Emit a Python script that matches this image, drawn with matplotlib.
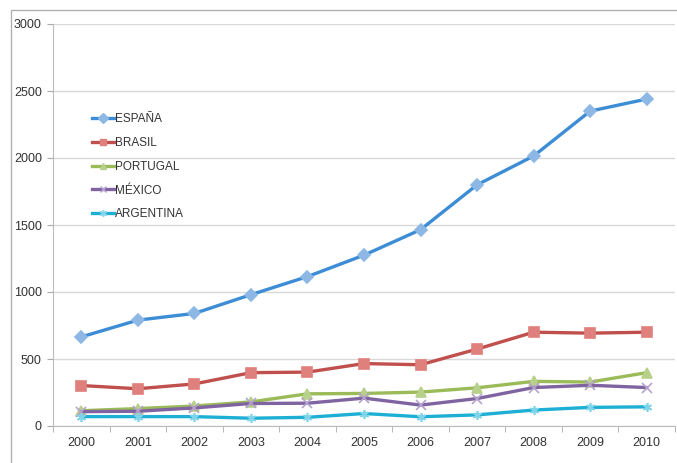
import matplotlib
matplotlib.use("Agg")
import matplotlib.pyplot as plt
from matplotlib.lines import Line2D
from matplotlib.patches import Rectangle

years = ["2000", "2001", "2002", "2003", "2004", "2005", "2006", "2007", "2008", "2009", "2010"]
espana = [665, 790, 840, 980, 1115, 1275, 1465, 1800, 2015, 2350, 2440]
brasil = [302, 278, 314, 398, 402, 466, 457, 574, 700, 693, 700]
portugal = [114, 130, 149, 180, 240, 243, 253, 285, 333, 328, 398]
mexico = [107, 110, 135, 168, 170, 208, 156, 205, 287, 304, 287]
argentina = [70, 70, 70, 58, 65, 93, 69, 83, 119, 139, 143]

series = [
    ("ESPAÑA", espana, "#3c8dd6", "D", "#8db8e6"),
    ("BRASIL", brasil, "#c0504d", "s", "#e0807c"),
    ("PORTUGAL", portugal, "#9bbb59", "^", "#b7d08a"),
    ("MÉXICO", mexico, "#8064a2", "x", "#b4a2cc"),
    ("ARGENTINA", argentina, "#1eb0d4", (6, 2, 0), "#7fd4ea"),
]

plt.rcParams['font.family'] = ['Liberation Sans', 'DejaVu Sans']

fig = plt.figure(figsize=(6.77, 4.63), dpi=100)
ax = fig.add_axes([53/677, 37/463, (675-53)/677, (426-24)/463])

x = list(range(len(years)))
handles = []
for name, vals, col, mk, mcol in series:
    ax.plot(x, vals, color=col, lw=2.4, marker=mk, markersize=6.5,
            markerfacecolor=mcol, markeredgecolor=mcol, markeredgewidth=1.2,
            label=name, solid_capstyle='round', solid_joinstyle='round')
    handles.append(Line2D([0], [0], color=col, lw=2.4, marker=mk, markersize=5,
                          markerfacecolor=mcol, markeredgecolor=mcol))

ax.set_xlim(-0.5, len(years) - 0.5)
ax.set_ylim(0, 3000)
ax.set_yticks(range(0, 3001, 500))
ax.set_xticks(x)
ax.set_xticklabels(years)
ax.set_xticks([i + 0.5 for i in range(-1, len(years))], minor=True)
ax.tick_params(axis='x', which='major', length=0, pad=8, labelsize=9, colors='#333333')
ax.tick_params(axis='x', which='minor', length=4, color='#aaaaaa')
ax.tick_params(axis='y', length=4, color='#aaaaaa', labelsize=9, pad=4, colors='#333333')
ax.grid(axis='y', color='#d9d9d9', lw=1)
ax.set_axisbelow(True)
for s in ['top', 'right']:
    ax.spines[s].set_visible(False)
ax.spines['left'].set_color('#bbbbbb')
ax.spines['bottom'].set_color('#bbbbbb')

leg = ax.legend(handles, [s[0] for s in series], loc='upper left',
                bbox_to_anchor=(0.055, 0.79), frameon=False, fontsize=8.5,
                handlelength=1.9, handletextpad=0.05, labelspacing=1.0,
                labelcolor='#333333', borderaxespad=0)

fig.patches.append(Rectangle((11/677, -0.1), 2.0, 1.1 - 10/463,
                             transform=fig.transFigure, fill=False,
                             edgecolor='#b0b0b0', lw=1))

fig.savefig("out.png", dpi=100)
